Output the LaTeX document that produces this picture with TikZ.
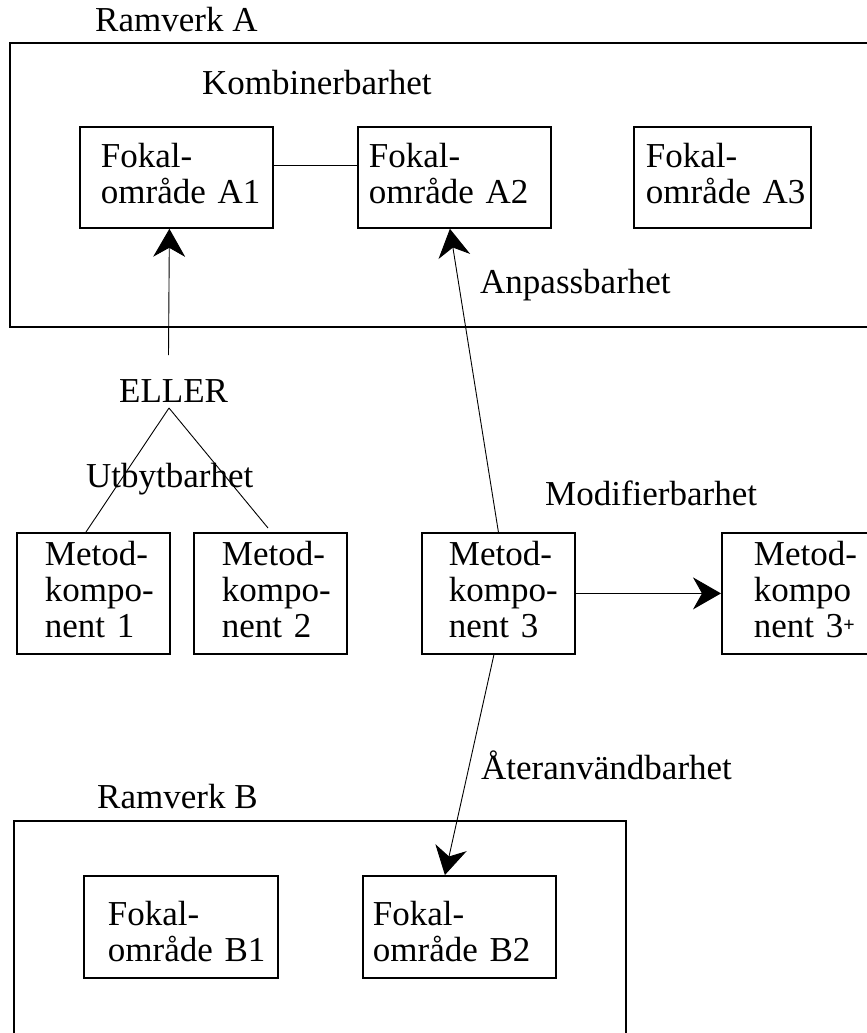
\documentclass[tikz,border=0pt]{standalone}
\usepackage{fontspec}
\setmainfont{Liberation Serif}
\usetikzlibrary{arrows.meta,calc}

\begin{document}
\begin{tikzpicture}[x=1pt,y=-1pt,
  lbl/.style={anchor=base west, inner sep=0pt, font=\fontsize{35}{36}\selectfont},
  frame/.style={draw, line width=2pt},
  fbox/.style={draw, line width=1.8pt, anchor=north west, inner sep=0pt,
    align=left, font=\fontsize{35}{36}\selectfont, text height=24pt},
  link/.style={line width=0.9pt},
  arr/.style={link, -{Stealth[length=28pt,width=32pt,inset=9pt]}}
]
\useasboundingbox (0,0) rectangle (867,1033);
\clip (0,0) rectangle (867,1033);

% the two frameworks
\draw[frame] (10,43) rectangle (890,327);
\draw[frame] (14,821) rectangle (626,1050);

% focal areas of framework A
\node[fbox, minimum width=193pt, minimum height=101pt, text width=151pt, text depth=43pt]
  (A1) at (79,126) {\mbox{Fokal-}\\\mbox{område A1}};
\node[fbox, minimum width=193pt, minimum height=101pt, text width=171pt, text depth=43pt]
  (A2) at (357,126) {\mbox{Fokal-}\\\mbox{område A2}};
\node[fbox, minimum width=177pt, minimum height=101pt, text width=153pt, text depth=43pt]
  (A3) at (633,126) {\mbox{Fokal-}\\\mbox{område A3}};

% method components
\node[fbox, minimum width=153pt, minimum height=121pt, text width=97pt, text depth=79pt]
  (MK1) at (16,532) {\mbox{Metod-}\\\mbox{kompo-}\\\mbox{nent 1}};
\node[fbox, minimum width=153pt, minimum height=121pt, text width=97pt, text depth=79pt]
  (MK2) at (193,532) {\mbox{Metod-}\\\mbox{kompo-}\\\mbox{nent 2}};
\node[fbox, minimum width=153pt, minimum height=121pt, text width=99pt, text depth=79pt]
  (MK3) at (421,532) {\mbox{Metod-}\\\mbox{kompo-}\\\mbox{nent 3}};
\node[fbox, minimum width=153pt, minimum height=121pt, text width=89pt, text depth=79pt]
  (MK3p) at (721,532) {\mbox{Metod-}\\\mbox{kompo}\\\mbox{nent 3\raisebox{6pt}{\fontsize{20}{20}\selectfont\textbf{+}}}};

% focal areas of framework B
\node[fbox, minimum width=194pt, minimum height=102pt, text width=146pt, text depth=26pt]
  (B1) at (83,875) {\mbox{Fokal-}\\\mbox{område B1}};
\node[fbox, minimum width=193pt, minimum height=102pt, text width=173pt, text depth=26pt]
  (B2) at (362,875) {\mbox{Fokal-}\\\mbox{område B2}};

% labels
\node[lbl] (ramA) at (95,32) {Ramverk A};
\node[lbl] (komb) at (202,95) {Kombinerbarhet};
\node[lbl] (anp)  at (480,293) {Anpassbarhet};
\node[lbl] (eller) at (119,402) {ELLER};
\node[lbl] (utb)  at (86,487) {Utbytbarhet};
\node[lbl] (mod)  at (545,505) {Modifierbarhet};
\node[lbl] (ater) at (481,779) {Återanvändbarhet};
\node[lbl] (ramB) at (97,808) {Ramverk B};

% connectors
\coordinate (ellertop) at (168.5,355);
\coordinate (ellerfoot) at (169,408);
\draw[arr] (ellertop) -- ([xshift=-7pt]A1.south);
\draw[link] (ellerfoot) -- ([xshift=70pt]MK1.north west);
\draw[link] (ellerfoot) -- ([xshift=75pt,yshift=4pt]MK2.north west);
\draw[link] ([yshift=11.5pt]A1.east) -- ([yshift=11.5pt]A2.west);
\draw[arr] (MK3.north) -- ([xshift=-4.5pt]A2.south);
\draw[arr] (MK3.east) -- (MK3p.west);
\draw[arr] ([xshift=-4.5pt]MK3.south) -- ([xshift=-14.5pt]B2.north);
\end{tikzpicture}
\end{document}
